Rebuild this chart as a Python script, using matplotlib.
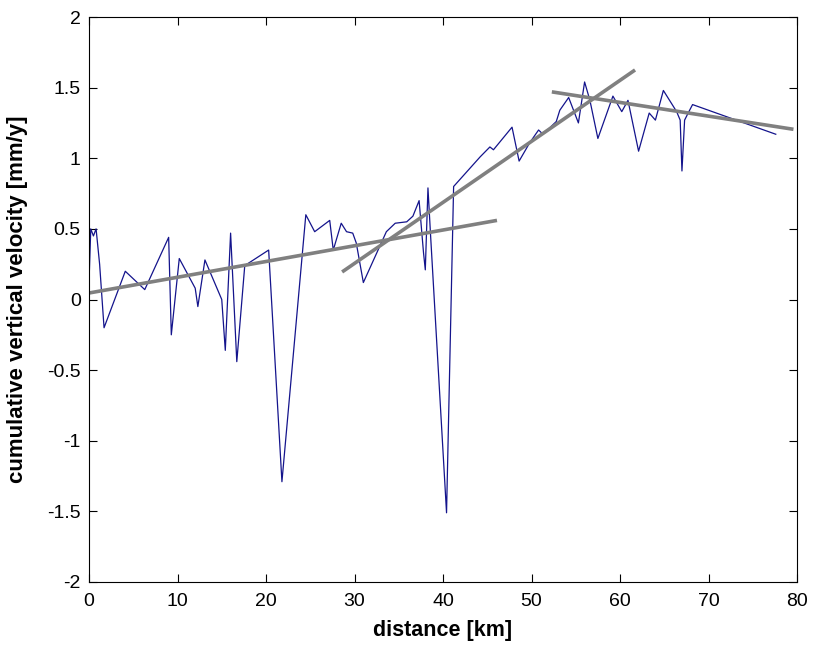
import matplotlib
matplotlib.use("Agg")
import matplotlib.pyplot as plt

distance_km = [0.0, 0.2, 0.5, 0.8, 1.2, 1.7, 4.1, 6.3, 9.0, 9.3, 10.2, 12.0, 12.3, 13.1,
               15.0, 15.4, 16.0, 16.7, 17.6, 20.3, 21.8, 24.5, 25.5, 27.2, 27.6, 28.5,
               29.1, 29.8, 30.2, 31.0, 33.6, 34.6, 35.9, 36.6, 37.3, 37.8, 38.0, 38.3,
               38.6, 40.4, 41.2, 44.2, 45.3, 45.7, 47.8, 48.6, 49.8, 50.8, 51.3, 52.8,
               53.2, 54.2, 55.3, 56.0, 56.6, 57.5, 59.2, 60.2, 60.9, 62.1, 63.3, 64.0,
               64.9, 66.4, 66.8, 67.0, 67.3, 67.7, 68.2, 77.6]
velocity = [0.12, 0.50, 0.45, 0.50, 0.25, -0.20, 0.20, 0.07, 0.44, -0.25, 0.29, 0.08, -0.05, 0.28,
            0.00, -0.36, 0.47, -0.44, 0.24, 0.35, -1.29, 0.60, 0.48, 0.56, 0.35, 0.54,
            0.48, 0.47, 0.40, 0.12, 0.48, 0.54, 0.55, 0.59, 0.70, 0.33, 0.21, 0.79,
            0.45, -1.51, 0.80, 1.01, 1.08, 1.06, 1.22, 0.98, 1.11, 1.20, 1.17, 1.26,
            1.34, 1.43, 1.25, 1.54, 1.41, 1.14, 1.44, 1.33, 1.41, 1.05, 1.32, 1.27,
            1.48, 1.33, 1.27, 0.91, 1.27, 1.32, 1.38, 1.17]

# fitted trend segments: (x_start, x_end), (y_start, y_end)
fit1_x = [0.0, 46.1]
fit1_y = [0.046, 0.56]
fit2_x = [28.6, 61.7]
fit2_y = [0.195, 1.625]
fit3_x = [52.3, 79.6]
fit3_y = [1.47, 1.205]

x_ticks = [0, 10, 20, 30, 40, 50, 60, 70, 80]
y_ticks = [-2, -1.5, -1, -0.5, 0, 0.5, 1, 1.5, 2]
y_tick_labels = ["-2", "-1.5", "-1", "-0.5", "0", "0.5", "1", "1.5", "2"]

font = "Liberation Sans"

fig = plt.figure(figsize=(8.19, 6.49), dpi=100)
ax = fig.add_axes([89 / 819, 67 / 649, 708 / 819, 565 / 649])

ax.plot(distance_km, velocity, color="#14148c", linewidth=0.9)
for fx, fy in [(fit1_x, fit1_y), (fit2_x, fit2_y), (fit3_x, fit3_y)]:
    ax.plot(fx, fy, color="#808080", linewidth=2.6, solid_capstyle="butt")

ax.set_xlim(0, 80)
ax.set_ylim(-2, 2)
ax.set_xticks(x_ticks)
ax.set_yticks(y_ticks)
ax.set_yticklabels(y_tick_labels)
ax.tick_params(direction="in", top=True, right=True, length=6, width=0.8,
               labelsize=14)
ax.tick_params(axis="x", pad=8)
ax.tick_params(axis="y", pad=6)
for lab in ax.get_xticklabels() + ax.get_yticklabels():
    lab.set_fontfamily(font)
for s in ax.spines.values():
    s.set_linewidth(0.8)

ax.set_xlabel("distance [km]", fontfamily=font, fontweight="bold", fontsize=15.5)
ax.set_ylabel("cumulative vertical velocity [mm/y]", fontfamily=font, fontweight="bold",
              fontsize=16)
ax.xaxis.set_label_coords(0.5, -0.068)
ax.yaxis.set_label_coords(-0.086, 0.5)

fig.savefig("out.png", dpi=100)
